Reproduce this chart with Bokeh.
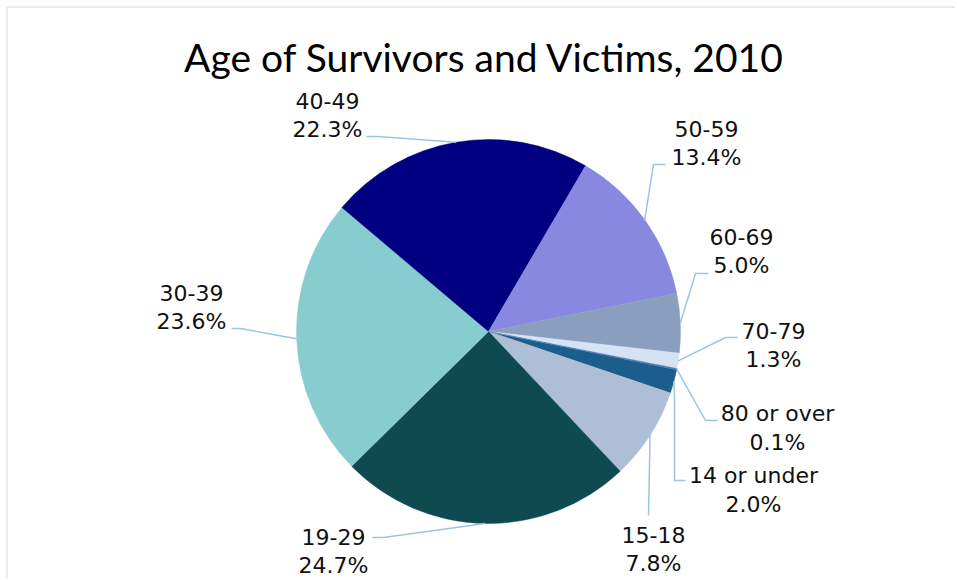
import numpy as np
from bokeh.plotting import figure
from bokeh.models import Range1d, ColumnDataSource
from bokeh.core.properties import value
from bokeh.embed import file_html
from bokeh.resources import INLINE

# ---------------- data ----------------
title = "Age of Survivors and Victims, 2010"
categories = ["14 or under", "15-18", "19-29", "30-39", "40-49",
              "50-59", "60-69", "70-79", "80 or over"]
percent = [2.0, 7.8, 24.7, 23.6, 22.3, 13.4, 5.0, 1.3, 0.1]
colors = ["#1B5E8B", "#ADBFD6", "#0F4A51", "#87CCCF", "#000080",
          "#8888E0", "#8A9FBE", "#D6E3F4", "#4A7DB5"]

# ---------------- layout (screen pixels) ----------------
W, H = 955, 578
OFF = 0
CX, CY, R = 488, 331, 192
FIRST_ANGLE = 101.5          # degrees clockwise from 12 o'clock
LABEL_FONT = "DejaVu Sans"
LABEL_SIZE = "22px"
LINE_GAP = 29
LEADER_COLOR = "#9DC3E6"

# label block: (center x, first-line vertical centre y)
label_pos = {
    "40-49": (327, 100),
    "50-59": (706, 128),
    "60-69": (741, 236),
    "70-79": (773, 330),
    "80 or over": (777, 413),
    "14 or under": (753, 475),
    "15-18": (653, 534),
    "19-29": (333, 536),
    "30-39": (191, 292),
}
# leader elbow points after the slice edge point
leader_pts = {
    "40-49": [(377, 136), (366, 136)],
    "50-59": [(653, 164), (665, 164)],
    "60-69": [(695, 273), (708, 273)],
    "70-79": [(725, 337), (737, 337)],
    "80 or over": [(705, 420), (717, 420)],
    "14 or under": [(674, 395), (674, 480), (685, 480)],
    "15-18": [(648, 515)],
    "19-29": [(383, 537), (372, 537)],
    "30-39": [(240, 328), (231, 328)],
}


def sy(y):
    return -y


p = figure(width=W, height=H, output_backend="svg", toolbar_location=None,
           x_range=Range1d(OFF, OFF + W), y_range=Range1d(-(OFF + H), -OFF),
           x_axis_type=None, y_axis_type=None, min_border=0,
           outline_line_color=None, background_fill_color="white",
           border_fill_color="white")
p.grid.visible = False

# chart border fragments (top and left)
p.line([6.5, 6.5, OFF + W], [sy(OFF + H), sy(6.5), sy(6.5)],
       line_color="#EBEBEB", line_width=2)

# ---------------- pie ----------------
pct = np.array(percent, dtype=float)
frac = pct / pct.sum()
cum_end = np.cumsum(frac) * 360.0 + FIRST_ANGLE
cum_start = cum_end - frac * 360.0
# clockwise-from-top -> standard math angle
start_std = np.deg2rad(90.0 - cum_end)
end_std = np.deg2rad(90.0 - cum_start)

src = ColumnDataSource(dict(
    x=[CX] * len(pct), y=[sy(CY)] * len(pct),
    start=start_std, end=end_std, color=colors, cat=categories))
p.wedge(x="x", y="y", radius=R, start_angle="start", end_angle="end",
        direction="anticlock", fill_color="color", line_color="color",
        line_width=0.5, source=src)

# ---------------- leaders & labels ----------------
mid = np.deg2rad((cum_start + cum_end) / 2.0)
for i, cat in enumerate(categories):
    ex = CX + R * np.sin(mid[i])
    ey = CY - R * np.cos(mid[i])
    xs = [ex] + [pt[0] for pt in leader_pts[cat]]
    ys = [sy(ey)] + [sy(pt[1]) for pt in leader_pts[cat]]
    p.line(xs, ys, line_color=LEADER_COLOR, line_width=1.5)

lx = [label_pos[c][0] for c in categories]
ly1 = [sy(label_pos[c][1]) for c in categories]
ly2 = [sy(label_pos[c][1] + LINE_GAP) for c in categories]
pct_txt = ["%.1f%%" % v for v in percent]
p.text(x=lx, y=ly1, text=categories, text_align="center",
       text_baseline="middle", text_font=value(LABEL_FONT),
       text_font_size=LABEL_SIZE, text_color="#111111")
p.text(x=lx, y=ly2, text=pct_txt, text_align="center",
       text_baseline="middle", text_font=value(LABEL_FONT),
       text_font_size=LABEL_SIZE, text_color="#111111")

# title
p.text(x=[484], y=[sy(56)], text=[title], text_align="center",
       text_baseline="middle", text_font=value("Lato"),
       text_font_size="39px", text_color="#000000")

open("out.html", "w").write(file_html(p, INLINE))
